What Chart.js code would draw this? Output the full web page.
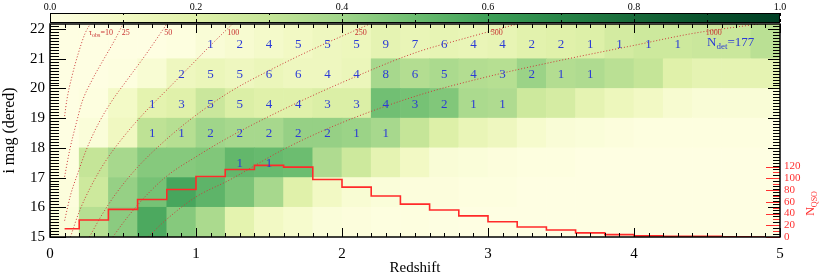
<!DOCTYPE html>
<html>
<head>
<meta charset="utf-8">
<script src="https://cdn.jsdelivr.net/npm/chart.js@4.4.1/dist/chart.umd.min.js"></script>
<style>
html, body { margin: 0; padding: 0; background: #fff; }
</style>
</head>
<body>
<canvas id="qsoChart" width="830" height="277"></canvas>
<script>
// redshift bin edges and the lower edge of each i-mag row
var zEdges = [0.0,0.2,0.4,0.6,0.8,1.0,1.2,1.4,1.6,1.8,2.0,2.2,2.4,2.6,2.8,3.0,3.2,3.4,3.6,3.8,4.0,4.2,4.4,4.6,4.8,5.0];
var magRows = [15,16,17,18,19,20,21];
var magTop = 22.17;

// colour value of each cell (fraction), one array per mag row
var fracI15 = [0.03,0.34,0.44,0.57,0.45,0.37,0.18,0.10,0.07,0.03,0.02,0.01,0.01,0.005,0,0,0,0,0,0,0,0,0,0,0];
var fracI16 = [0.02,0.27,0.42,0.48,0.58,0.53,0.47,0.38,0.20,0.10,0.05,0.03,0.02,0.02,0.01,0.01,0,0,0,0,0,0,0,0,0];
var fracI17 = [0.01,0.30,0.38,0.45,0.45,0.46,0.52,0.51,0.50,0.36,0.27,0.17,0.10,0.04,0.03,0.02,0.01,0.01,0,0,0,0,0,0,0];
var fracI18 = [0,0.03,0.11,0.32,0.34,0.40,0.38,0.38,0.42,0.42,0.41,0.38,0.30,0.21,0.15,0.12,0.07,0.04,0.03,0.02,0.01,0.01,0.01,0.01,0.01];
var fracI19 = [0,0.01,0.09,0.18,0.20,0.28,0.22,0.20,0.20,0.22,0.22,0.49,0.48,0.46,0.37,0.36,0.27,0.24,0.17,0.13,0.10,0.06,0.04,0.04,0.04];
var fracI20 = [0,0,0.01,0.05,0.12,0.14,0.12,0.14,0.12,0.12,0.14,0.38,0.35,0.37,0.35,0.34,0.41,0.35,0.36,0.33,0.30,0.20,0.17,0.17,0.17];
var fracI21 = [0,0,0,0,0.01,0.04,0.06,0.08,0.10,0.12,0.13,0.17,0.15,0.16,0.15,0.16,0.19,0.20,0.21,0.25,0.27,0.27,0.28,0.28,0.33];

// detected counts per cell (0 = no label)
var nDetI15 = [0,0,0,0,0,0,0,0,0,0,0,0,0,0,0,0,0,0,0,0,0,0,0,0,0];
var nDetI16 = [0,0,0,0,0,0,0,0,0,0,0,0,0,0,0,0,0,0,0,0,0,0,0,0,0];
var nDetI17 = [0,0,0,0,0,0,1,1,0,0,0,0,0,0,0,0,0,0,0,0,0,0,0,0,0];
var nDetI18 = [0,0,0,1,1,2,2,2,2,2,1,1,0,0,0,0,0,0,0,0,0,0,0,0,0];
var nDetI19 = [0,0,0,1,3,5,5,4,4,3,3,4,3,2,1,1,0,0,0,0,0,0,0,0,0];
var nDetI20 = [0,0,0,0,2,5,5,6,6,4,4,8,6,5,4,3,2,1,1,0,0,0,0,0,0];
var nDetI21 = [0,0,0,0,0,1,2,4,5,5,5,9,7,6,4,4,2,2,1,1,1,1,0,0,0];

// QSO histogram, bin centres
var zMid = [0.1,0.3,0.5,0.7,0.9,1.1,1.3,1.5,1.7,1.9,2.1,2.3,2.5,2.7,2.9,3.1,3.3,3.5,3.7,3.9,4.1,4.3,4.5,4.7,4.9];
var nQso = [14,29,47,64,81,103,115,122,119,98,85,70,56,46,36,26,17,12,7,4,2,1,1,0.5,0];

// tau_obs contours, [z, i mag]
var tauLevels = [10,25,50,100,250,500,1000];
var tau10 = [[0.10,19.07],[0.115,19.6],[0.15,20.4],[0.195,21.2],[0.24,21.85],[0.275,22.17]];
var tau25 = [[0.10,17.03],[0.135,17.93],[0.18,18.83],[0.22,19.55],[0.29,20.3],[0.37,21.0],[0.44,21.6],[0.50,22.17]];
var tau50 = [[0.10,15.55],[0.14,16.4],[0.19,17.14],[0.25,17.95],[0.33,18.8],[0.42,19.55],[0.53,20.3],[0.65,21.1],[0.80,22.17]];
var tau100 = [[0.14,15.0],[0.20,15.85],[0.28,16.7],[0.38,17.55],[0.50,18.35],[0.65,19.2],[0.82,20.05],[0.98,20.85],[1.12,21.55],[1.25,22.17]];
var tau250 = [[0.27,15.0],[0.35,15.7],[0.45,16.45],[0.60,17.35],[0.80,18.3],[1.00,19.1],[1.23,19.88],[1.50,20.6],[1.80,21.32],[2.19,22.17]];
var tau500 = [[0.43,15.0],[0.52,15.6],[0.65,16.35],[0.80,17.05],[1.00,17.7],[1.23,18.37],[1.60,19.3],[2.00,20.2],[2.50,21.2],[2.85,21.7],[3.20,22.17]];
var tau1000 = [[0.67,15.0],[0.80,15.6],[1.00,16.35],[1.23,16.92],[1.60,17.95],[2.00,18.85],[2.53,19.78],[3.00,20.4],[3.50,20.95],[4.00,21.45],[4.40,21.85],[4.85,22.17]];
var tauCurves = [tau10, tau25, tau50, tau100, tau250, tau500, tau1000];

var serif = '"Liberation Serif", "Times New Roman", "DejaVu Serif", serif';
var cmapStops = [
  [0.0, [254,254,226]], [0.1, [242,249,196]], [0.2, [224,241,170]], [0.3, [197,229,152]],
  [0.4, [160,213,138]], [0.5, [108,189,112]], [0.6, [62,160,88]], [0.7, [40,133,72]],
  [0.8, [24,106,58]], [0.9, [10,82,45]], [1.0, [0,62,36]]
];

function fracColor(f) {
  for (var i = 1; i < cmapStops.length; i++) {
    if (f <= cmapStops[i][0]) {
      var a = cmapStops[i-1], b = cmapStops[i];
      var t = (f - a[0]) / (b[0] - a[0]);
      var c = a[1].map(function(v, k) { return Math.round(v + (b[1][k] - v) * t); });
      return 'rgb(' + c.join(',') + ')';
    }
  }
  return 'rgb(' + cmapStops[cmapStops.length-1][1].join(',') + ')';
}

var fracRows = [fracI15, fracI16, fracI17, fracI18, fracI19, fracI20, fracI21];
var nDetRows = [nDetI15, nDetI16, nDetI17, nDetI18, nDetI19, nDetI20, nDetI21];
var zLabels = zEdges.slice(0, -1).map(function(z, i) { return z.toFixed(1) + '-' + zEdges[i+1].toFixed(1); });

var datasets = [];
fracRows.forEach(function(row, r) {
  var lo = magRows[r];
  var hi = r === magRows.length - 1 ? magTop : magRows[r] + 1;
  datasets.push({
    type: 'bar',
    data: row.map(function() { return [lo, hi]; }),
    backgroundColor: row.map(fracColor),
    xAxisID: 'x', yAxisID: 'y',
    grouped: false, categoryPercentage: 1, barPercentage: 1,
    borderWidth: 0, order: 3
  });
});
tauCurves.forEach(function(pts) {
  datasets.push({
    type: 'line',
    data: pts.map(function(p) { return {x: p[0], y: p[1]}; }),
    xAxisID: 'xz', yAxisID: 'y',
    borderColor: '#cc3a3a', borderWidth: 1, borderDash: [1, 2],
    pointRadius: 0, cubicInterpolationMode: 'monotone', fill: false, order: 2
  });
});
datasets.push({
  type: 'line',
  data: zMid.map(function(z, i) { return {x: z, y: nQso[i]}; }),
  xAxisID: 'xz', yAxisID: 'yN',
  stepped: 'middle', borderColor: '#ff2a2a', borderWidth: 1.6,
  pointRadius: 0, fill: false, order: 1
});

// colour bar above the plot
var colorBar = {
  id: 'colorBar',
  afterDraw: function(chart) {
    var ctx = chart.ctx, a = chart.chartArea;
    var top = a.top - 11, h = 9, w = a.right - a.left;
    var g = ctx.createLinearGradient(a.left, 0, a.right, 0);
    cmapStops.forEach(function(s) { g.addColorStop(s[0], 'rgb(' + s[1].join(',') + ')'); });
    ctx.save();
    ctx.fillStyle = g;
    ctx.fillRect(a.left, top, w, h);
    ctx.strokeStyle = '#000';
    ctx.lineWidth = 1;
    ctx.strokeRect(a.left + 0.5, top + 0.5, w - 1, h);
    for (var i = 0; i <= 10; i++) {
      var px = Math.round(a.left + w * i / 10) + 0.5;
      var len = i % 2 === 0 ? 3 : 2;
      ctx.beginPath();
      ctx.moveTo(px, top + h); ctx.lineTo(px, top + h - len);
      ctx.moveTo(px, top); ctx.lineTo(px, top + len);
      ctx.stroke();
    }
    ctx.fillStyle = '#000';
    ctx.font = '10px ' + serif;
    ctx.textAlign = 'center';
    ctx.textBaseline = 'middle';
    for (var j = 0; j <= 5; j++) {
      ctx.fillText((j * 0.2).toFixed(1), a.left + w * j / 5, top - 6);
    }
    ctx.restore();
  }
};

// counts, contour labels and the N labels
var plotText = {
  id: 'plotText',
  afterDatasetsDraw: function(chart) {
    var ctx = chart.ctx, xs = chart.scales.xz, ys = chart.scales.y, a = chart.chartArea;
    ctx.save();
    ctx.font = '13px ' + serif;
    ctx.fillStyle = '#2b3bd6';
    ctx.textAlign = 'center';
    ctx.textBaseline = 'middle';
    var total = 0;
    nDetRows.forEach(function(row, r) {
      row.forEach(function(n, c) {
        if (!n) return;
        total += n;
        var px = xs.getPixelForValue((zEdges[c] + zEdges[c+1]) / 2);
        var py = ys.getPixelForValue(magRows[r] + 0.5);
        ctx.fillText(String(n), px, py + 1);
      });
    });
    // N_det = total
    var nx = xs.getPixelForValue(4.5), ny = ys.getPixelForValue(21.55) + 4;
    ctx.textAlign = 'left';
    ctx.textBaseline = 'alphabetic';
    ctx.fillText('N', nx, ny);
    nx += ctx.measureText('N').width;
    ctx.font = '9px ' + serif;
    ctx.fillText('det', nx, ny + 3);
    nx += ctx.measureText('det').width;
    ctx.font = '13px ' + serif;
    ctx.fillText('=' + total, nx, ny);

    // contour labels where each curve crosses i = 21.9
    ctx.fillStyle = '#c83232';
    tauCurves.forEach(function(pts, k) {
      var zc = null;
      for (var i = 1; i < pts.length; i++) {
        if (pts[i][1] >= 21.9 && pts[i-1][1] < 21.9) {
          zc = pts[i-1][0] + (pts[i][0] - pts[i-1][0]) * (21.9 - pts[i-1][1]) / (pts[i][1] - pts[i-1][1]);
        }
      }
      if (zc === null) return;
      var lx = xs.getPixelForValue(zc) + 3, ly = ys.getPixelForValue(21.9) + 3;
      ctx.font = '8px ' + serif;
      if (k === 0) {
        ctx.fillText('\u03C4', lx, ly);
        lx += ctx.measureText('\u03C4').width;
        ctx.font = '6px ' + serif;
        ctx.fillText('obs', lx, ly + 2);
        lx += ctx.measureText('obs').width;
        ctx.font = '8px ' + serif;
        ctx.fillText('=' + tauLevels[k], lx, ly);
      } else {
        ctx.fillText(String(tauLevels[k]), lx, ly);
      }
    });

    // N_QSO title on the right
    ctx.fillStyle = '#ff3030';
    ctx.translate(a.right + 34, chart.scales.yN.getPixelForValue(60) + 14);
    ctx.rotate(-Math.PI / 2);
    ctx.font = '12px ' + serif;
    ctx.fillText('N', 0, 0);
    var w = ctx.measureText('N').width;
    ctx.font = '8px ' + serif;
    ctx.fillText('QSO', w, 3);
    ctx.restore();
  }
};

// frame and inward tick marks
var frameTicks = {
  id: 'frameTicks',
  afterDraw: function(chart) {
    var ctx = chart.ctx, a = chart.chartArea;
    var xs = chart.scales.xz, ys = chart.scales.y, yn = chart.scales.yN;
    function seg(x1, y1, x2, y2) { ctx.beginPath(); ctx.moveTo(x1, y1); ctx.lineTo(x2, y2); ctx.stroke(); }
    ctx.save();
    ctx.strokeStyle = '#000';
    ctx.lineWidth = 1;
    for (var i = 0; i <= 50; i++) {
      var px = Math.round(xs.getPixelForValue(i / 10)) + 0.5;
      var len = i % 10 === 0 ? 9 : 4;
      seg(px, a.bottom, px, a.bottom - len);
      seg(px, a.top, px, a.top + len);
    }
    for (var m = 150; m <= 221; m++) {
      var py = Math.round(ys.getPixelForValue(m / 10)) + 0.5;
      var major = m % 10 === 0;
      seg(a.left, py, a.left + (major ? 16 : 9), py);
      seg(a.right, py, a.right - (major ? 12 : 7), py);
    }
    ctx.strokeStyle = '#ff3030';
    for (var n = 0; n <= 120; n += 10) {
      var py2 = Math.round(yn.getPixelForValue(n)) + 0.5;
      seg(a.right, py2, a.right - (n % 20 === 0 ? 14 : 7), py2);
    }
    ctx.strokeStyle = '#000';
    ctx.lineWidth = 1.5;
    ctx.strokeRect(a.left, a.top, a.right - a.left, a.bottom - a.top);
    ctx.restore();
  }
};

var qsoChart = new Chart(document.getElementById('qsoChart'), {
  type: 'bar',
  data: { labels: zLabels, datasets: datasets },
  options: {
    responsive: false,
    animation: false,
    layout: { padding: { top: 24, left: 0, right: 0, bottom: 0 } },
    plugins: { legend: { display: false }, tooltip: { enabled: false } },
    scales: {
      x: { type: 'category', display: false, offset: true },
      xz: {
        type: 'linear', position: 'bottom', min: 0, max: 5, offset: false,
        ticks: { stepSize: 1, color: '#000', font: { family: serif, size: 15 }, padding: 8 },
        grid: { display: false, drawTicks: false },
        border: { display: false },
        title: { display: true, text: 'Redshift', color: '#000', font: { family: serif, size: 15 }, padding: { top: 0, bottom: 0 } },
        afterFit: function(s) { s.height = 40; }
      },
      y: {
        type: 'linear', position: 'left', min: 15, max: magTop,
        ticks: { stepSize: 1, includeBounds: false, color: '#000', font: { family: serif, size: 15 }, padding: 5 },
        grid: { display: false, drawTicks: false },
        border: { display: false },
        title: { display: true, text: 'i mag (dered)', color: '#000', font: { family: serif, size: 16 }, padding: { top: 0, bottom: 5 } },
        afterFit: function(s) { s.width = 50; }
      },
      yN: {
        type: 'linear', position: 'right', min: 0, max: 363,
        ticks: { stepSize: 20, color: '#ff3030', font: { family: serif, size: 11 }, padding: 4 },
        afterBuildTicks: function(s) { s.ticks = s.ticks.filter(function(t) { return t.value <= 120; }); },
        grid: { display: false, drawTicks: false },
        border: { display: false },
        afterFit: function(s) { s.width = 50; }
      }
    }
  },
  plugins: [colorBar, plotText, frameTicks]
});
</script>
</body>
</html>
